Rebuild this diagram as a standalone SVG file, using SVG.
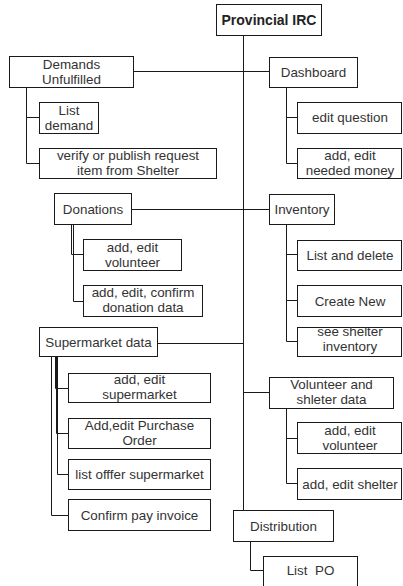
<svg xmlns="http://www.w3.org/2000/svg" width="403" height="586" viewBox="0 0 403 586">
<style>
.b{fill:#fff;stroke:#1a1a1a;stroke-width:1}
.t{font-family:"Liberation Sans",Arial,sans-serif;font-size:13.4px;fill:#333;text-anchor:middle;white-space:pre}
.bold{font-weight:bold;fill:#222;font-size:14px}
.c{fill:none;stroke:#1a1a1a;stroke-width:1}
</style>
<rect width="403" height="586" fill="#fff"/>
<g id="connectors">
<path class="c" d="M243.5 35V510"/>
<path class="c" d="M133 71.5H269"/>
<path class="c" d="M131 209.5H269"/>
<path class="c" d="M157 343.5H243.5"/>
<path class="c" d="M243.5 392.5H269"/>
<path class="c" d="M26.5 87V163.5H39M26.5 117.5H39"/>
<path class="c" d="M286.5 87V163.5H298M286.5 117.5H298"/>
<path class="c" d="M71.5 224V254.5H83M73.5 224V301.5H83"/>
<path class="c" d="M286.5 224V341.5H298M286.5 254.5H298M286.5 300.5H298"/>
<path class="c" d="M51.5 356V515.5H68M55.5 356V388.5H68M56.5 356V433.5H68M57.5 356V474.5H68"/>
<path class="c" d="M286.5 408V483.5H298M286.5 438.5H298"/>
<path class="c" d="M250.5 541V570.5H263"/>
</g>
<g id="provincial"><rect class="b" x="216.5" y="4.5" width="105" height="31"/><text class="t bold" x="269" y="24.5">Provincial IRC</text></g>
<g id="dashboard"><rect class="b" x="269.5" y="57.5" width="88" height="30"/><text class="t" x="313.5" y="77">Dashboard</text></g>
<g id="demands"><rect class="b" x="9.5" y="56.5" width="124" height="31"/><text class="t" x="71.5" y="69">Demands</text><text class="t" x="71.5" y="84">Unfulfilled</text></g>
<g id="listdemand"><rect class="b" x="39.5" y="102.5" width="59" height="31"/><text class="t" x="69" y="114.5">List</text><text class="t" x="69" y="129.5">demand</text></g>
<g id="verify"><rect class="b" x="39.5" y="148.5" width="177" height="30"/><text class="t" x="128" y="159.5">verify or publish request</text><text class="t" x="128" y="174.5">item from Shelter</text></g>
<g id="editquestion"><rect class="b" x="297.5" y="102.5" width="104" height="31"/><text class="t" x="350" y="122">edit question</text></g>
<g id="neededmoney"><rect class="b" x="297.5" y="148.5" width="104" height="30"/><text class="t" x="350" y="160">add, edit</text><text class="t" x="350" y="175">needed money</text></g>
<g id="donations"><rect class="b" x="54.5" y="193.5" width="77" height="31"/><text class="t" x="93" y="214">Donations</text></g>
<g id="inventory"><rect class="b" x="269.5" y="194.5" width="65" height="30"/><text class="t" x="302" y="214">Inventory</text></g>
<g id="donvolunteer"><rect class="b" x="83.5" y="239.5" width="98" height="31"/><text class="t" x="132.5" y="251.5">add, edit</text><text class="t" x="132.5" y="266.5">volunteer</text></g>
<g id="donconfirm"><rect class="b" x="83.5" y="285.5" width="119" height="31"/><text class="t" x="143" y="296.5">add, edit, confirm</text><text class="t" x="143" y="311.5">donation data</text></g>
<g id="listdelete"><rect class="b" x="297.5" y="240.5" width="104" height="30"/><text class="t" x="350" y="259.5">List and delete</text></g>
<g id="createnew"><rect class="b" x="297.5" y="285.5" width="104" height="31"/><text class="t" x="350" y="305.5">Create New</text></g>
<g id="seeshelter"><rect class="b" x="297.5" y="327.5" width="104" height="29"/><text class="t" x="350" y="335.5">see shelter</text><text class="t" x="350" y="350.5">inventory</text></g>
<g id="supermarket"><rect class="b" x="39.5" y="327.5" width="118" height="29"/><text class="t" x="98.5" y="346.5">Supermarket data</text></g>
<g id="editsupermarket"><rect class="b" x="68.5" y="373.5" width="142" height="29"/><text class="t" x="139.5" y="383.5">add, edit</text><text class="t" x="139.5" y="398.5">supermarket</text></g>
<g id="purchaseorder"><rect class="b" x="68.5" y="418.5" width="142" height="30"/><text class="t" x="139.5" y="429.5">Add,edit Purchase</text><text class="t" x="139.5" y="444.5">Order</text></g>
<g id="listoffer"><rect class="b" x="68.5" y="459.5" width="142" height="30"/><text class="t" x="139.5" y="479">list offfer supermarket</text></g>
<g id="confirmpay"><rect class="b" x="68.5" y="499.5" width="142" height="31"/><text class="t" x="139.5" y="519.5">Confirm pay invoice</text></g>
<g id="volshelter"><rect class="b" x="269.5" y="377.5" width="124" height="31"/><text class="t" x="331.5" y="388.5">Volunteer and</text><text class="t" x="331.5" y="403.5">shleter data</text></g>
<g id="volvolunteer"><rect class="b" x="297.5" y="422.5" width="104" height="31"/><text class="t" x="350" y="435">add, edit</text><text class="t" x="350" y="450">volunteer</text></g>
<g id="volshelteredit"><rect class="b" x="297.5" y="468.5" width="104" height="31"/><text class="t" x="350" y="488.5">add, edit shelter</text></g>
<g id="distribution"><rect class="b" x="233.5" y="510.5" width="100" height="31"/><text class="t" x="283.5" y="530.5">Distribution</text></g>
<g id="listpo"><rect class="b" x="263.5" y="556.5" width="94" height="40"/><text class="t" x="310.5" y="575">List  PO</text></g>
</svg>
